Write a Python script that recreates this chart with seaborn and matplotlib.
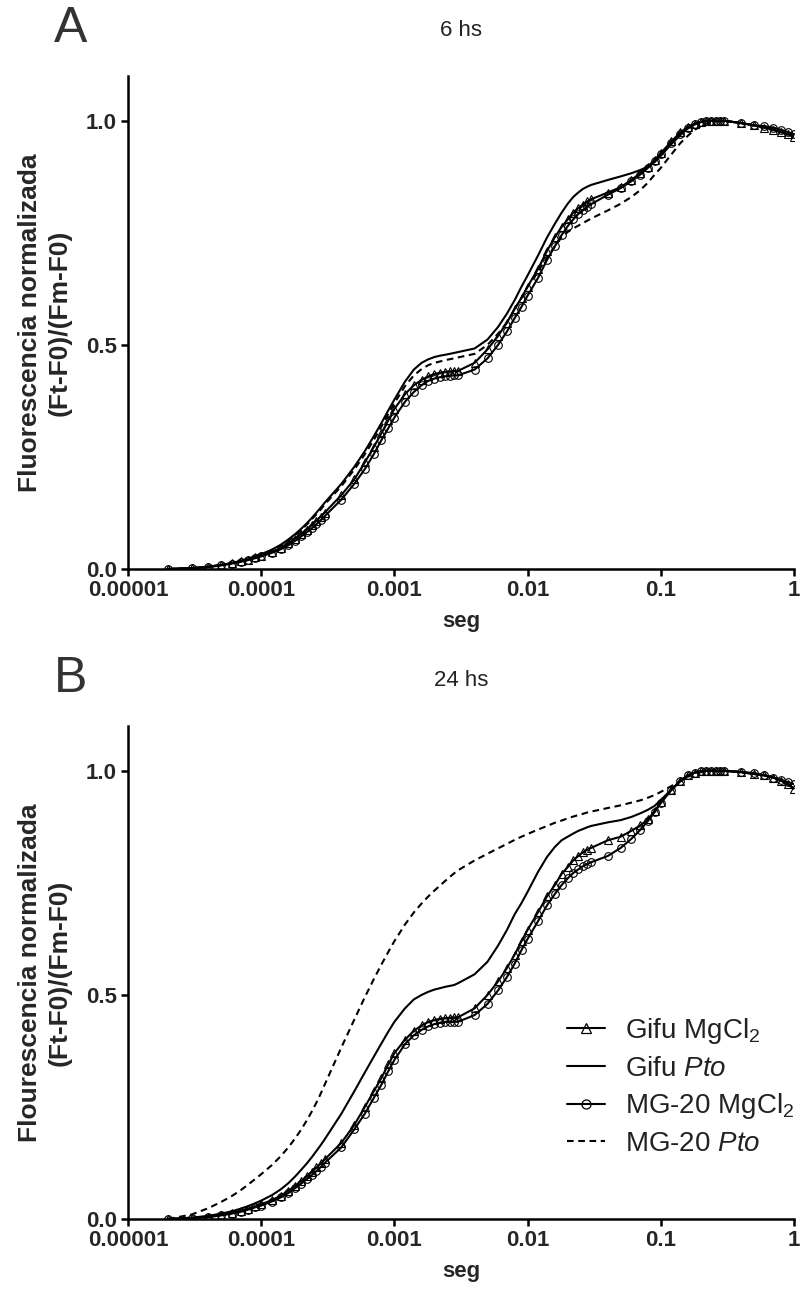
import matplotlib
matplotlib.use("Agg")
import matplotlib.pyplot as plt
import seaborn as sns
from matplotlib.lines import Line2D
from matplotlib.ticker import NullLocator

# ---------------- data ----------------
tiempo = [2e-5, 3e-5, 4e-5, 5e-5, 6e-5, 7e-5, 8e-5, 9e-5, 1e-4, 1.2e-4, 1.4e-4, 1.6e-4,
          1.8e-4, 2e-4, 2.2e-4, 2.4e-4, 2.6e-4, 2.8e-4, 3e-4,
          4e-4, 5e-4, 6e-4, 7e-4, 8e-4, 9e-4, 1e-3, 1.2e-3, 1.4e-3, 1.6e-3, 1.8e-3,
          2e-3, 2.2e-3, 2.4e-3, 2.6e-3, 2.8e-3, 3e-3,
          4e-3, 5e-3, 6e-3, 7e-3, 8e-3, 9e-3, 1e-2, 1.2e-2, 1.4e-2, 1.6e-2, 1.8e-2,
          2e-2, 2.2e-2, 2.4e-2, 2.6e-2, 2.8e-2, 3e-2,
          0.04, 0.05, 0.06, 0.07, 0.08, 0.09, 0.1, 0.12, 0.14, 0.16, 0.18,
          0.2, 0.22, 0.24, 0.26, 0.28, 0.3,
          0.4, 0.5, 0.6, 0.7, 0.8, 0.9, 1.0]

# Panel A: 6 hs
a_gifu_mgcl2 = [0.0, 0.002, 0.005, 0.009, 0.013, 0.017, 0.021, 0.026, 0.030, 0.038, 0.047, 0.057,
                0.068, 0.078, 0.088, 0.098, 0.108, 0.117, 0.126,
                0.165, 0.20, 0.238, 0.272, 0.303, 0.332, 0.357, 0.39, 0.41, 0.422, 0.43,
                0.435, 0.438, 0.44, 0.441, 0.442, 0.442,
                0.46, 0.49, 0.52, 0.55, 0.58, 0.605, 0.63, 0.67, 0.71, 0.74, 0.763,
                0.78, 0.795, 0.805, 0.813, 0.82, 0.825,
                0.84, 0.852, 0.868, 0.883, 0.898, 0.913, 0.928, 0.954, 0.974, 0.987, 0.994,
                0.998, 1.0, 1.0, 1.0, 1.0, 1.0,
                0.995, 0.99, 0.985, 0.98, 0.975, 0.97, 0.965]
a_gifu_pto = [0.0, 0.002, 0.005, 0.009, 0.013, 0.018, 0.023, 0.028, 0.033, 0.043, 0.054, 0.066,
              0.078, 0.09, 0.102, 0.114, 0.126, 0.137, 0.148,
              0.19, 0.228, 0.263, 0.296, 0.326, 0.354, 0.378, 0.418, 0.445, 0.46, 0.468,
              0.473, 0.476, 0.478, 0.48, 0.482, 0.484,
              0.492, 0.512, 0.54, 0.57, 0.60, 0.63, 0.655, 0.70, 0.74, 0.77, 0.795,
              0.815, 0.83, 0.84, 0.848, 0.853, 0.857,
              0.868, 0.876, 0.883, 0.89, 0.898, 0.908, 0.922, 0.948, 0.968, 0.983, 0.992,
              0.997, 1.0, 1.0, 1.0, 1.0, 1.0,
              0.995, 0.99, 0.985, 0.98, 0.975, 0.97, 0.965]
a_mg20_mgcl2 = [0.0, 0.002, 0.004, 0.008, 0.012, 0.016, 0.02, 0.024, 0.028, 0.036, 0.044, 0.053,
                0.063, 0.073, 0.082, 0.091, 0.1, 0.109, 0.118,
                0.155, 0.19, 0.223, 0.256, 0.288, 0.314, 0.338, 0.373, 0.395, 0.41, 0.42,
                0.425, 0.428, 0.43, 0.431, 0.432, 0.432,
                0.445, 0.47, 0.50, 0.53, 0.56, 0.585, 0.61, 0.65, 0.69, 0.72, 0.745,
                0.765, 0.78, 0.792, 0.80, 0.808, 0.814,
                0.835, 0.85, 0.865, 0.88, 0.895, 0.91, 0.925, 0.95, 0.97, 0.985, 0.993,
                0.998, 1.0, 1.0, 1.0, 1.0, 1.0,
                0.995, 0.99, 0.988, 0.985, 0.98, 0.975, 0.97]
a_mg20_pto = [0.0, 0.002, 0.005, 0.009, 0.013, 0.018, 0.022, 0.027, 0.032, 0.041, 0.052, 0.063,
              0.075, 0.087, 0.099, 0.111, 0.122, 0.133, 0.144,
              0.185, 0.222, 0.256, 0.288, 0.318, 0.346, 0.37, 0.408, 0.432, 0.446, 0.455,
              0.46, 0.463, 0.466, 0.468, 0.47, 0.472,
              0.48, 0.50, 0.525, 0.55, 0.58, 0.605, 0.63, 0.665, 0.695, 0.72, 0.74,
              0.752, 0.76, 0.766, 0.772, 0.777, 0.782,
              0.80, 0.815, 0.83, 0.845, 0.862, 0.88, 0.895, 0.925, 0.95, 0.967, 0.98,
              0.988, 0.994, 0.997, 0.999, 1.0, 1.0,
              0.995, 0.99, 0.985, 0.98, 0.975, 0.97, 0.965]

# Panel B: 24 hs
b_gifu_mgcl2 = [0.0, 0.002, 0.005, 0.009, 0.013, 0.018, 0.023, 0.028, 0.033, 0.042, 0.052, 0.063,
                0.074, 0.085, 0.095, 0.105, 0.115, 0.124, 0.133,
                0.17, 0.21, 0.25, 0.285, 0.315, 0.345, 0.37, 0.40, 0.42, 0.432, 0.44,
                0.444, 0.447, 0.448, 0.449, 0.45, 0.45,
                0.47, 0.50, 0.53, 0.56, 0.59, 0.62, 0.645, 0.685, 0.72, 0.745, 0.77,
                0.785, 0.80, 0.81, 0.818, 0.824, 0.828,
                0.845, 0.853, 0.866, 0.878, 0.892, 0.91, 0.93, 0.958, 0.978, 0.99, 0.996,
                0.999, 1.0, 1.0, 1.0, 1.0, 1.0,
                0.997, 0.993, 0.99, 0.985, 0.978, 0.97, 0.96]
b_gifu_pto = [0.0, 0.003, 0.007, 0.012, 0.017, 0.023, 0.029, 0.035, 0.041, 0.053, 0.066, 0.08,
              0.095, 0.11, 0.124, 0.138, 0.152, 0.165, 0.178,
              0.235, 0.285, 0.327, 0.362, 0.392, 0.418, 0.44, 0.47, 0.49, 0.50, 0.507,
              0.512, 0.515, 0.518, 0.52, 0.522, 0.526,
              0.546, 0.574, 0.61, 0.645, 0.68, 0.705, 0.73, 0.775, 0.808, 0.83, 0.845,
              0.853, 0.86, 0.866, 0.87, 0.874, 0.877,
              0.885, 0.89, 0.897, 0.905, 0.913, 0.922, 0.935, 0.958, 0.977, 0.99, 0.996,
              0.999, 1.0, 1.0, 1.0, 1.0, 1.0,
              0.997, 0.993, 0.99, 0.985, 0.978, 0.97, 0.96]
b_mg20_mgcl2 = [0.0, 0.002, 0.004, 0.008, 0.012, 0.016, 0.021, 0.026, 0.030, 0.039, 0.048, 0.058,
                0.069, 0.079, 0.089, 0.098, 0.107, 0.116, 0.125,
                0.16, 0.20, 0.235, 0.27, 0.30, 0.33, 0.355, 0.39, 0.41, 0.422, 0.43,
                0.435, 0.438, 0.44, 0.44, 0.44, 0.44,
                0.455, 0.48, 0.51, 0.54, 0.57, 0.60, 0.625, 0.665, 0.70, 0.725, 0.745,
                0.76, 0.772, 0.78, 0.787, 0.792, 0.796,
                0.81, 0.828, 0.848, 0.868, 0.888, 0.908, 0.928, 0.957, 0.977, 0.99, 0.996,
                0.999, 1.0, 1.0, 1.0, 1.0, 1.0,
                0.998, 0.995, 0.99, 0.985, 0.98, 0.975, 0.97]
b_mg20_pto = [0.0, 0.01, 0.024, 0.038, 0.051, 0.064, 0.077, 0.089, 0.1, 0.12, 0.14, 0.16,
              0.18, 0.2, 0.22, 0.24, 0.26, 0.28, 0.30,
              0.383, 0.445, 0.495, 0.535, 0.568, 0.596, 0.62, 0.657, 0.684, 0.704, 0.72,
              0.733, 0.744, 0.754, 0.763, 0.771, 0.778,
              0.80, 0.815, 0.827, 0.837, 0.846, 0.853, 0.859, 0.869, 0.877, 0.884, 0.889,
              0.894, 0.898, 0.901, 0.904, 0.907, 0.909,
              0.917, 0.923, 0.929, 0.934, 0.94, 0.946, 0.953, 0.966, 0.977, 0.987, 0.993,
              0.997, 0.999, 1.0, 1.0, 1.0, 1.0,
              0.997, 0.993, 0.99, 0.985, 0.978, 0.97, 0.96]

series_names = ["Gifu MgCl$_2$", "Gifu $\\mathit{Pto}$", "MG-20 MgCl$_2$", "MG-20 $\\mathit{Pto}$"]
x_ticks = [1e-5, 1e-4, 1e-3, 1e-2, 1e-1, 1]
x_tick_labels = ["0.00001", "0.0001", "0.001", "0.01", "0.1", "1"]
y_ticks = [0.0, 0.5, 1.0]
y_tick_labels = ["0.0", "0.5", "1.0"]
panel_titles = ["6 hs", "24 hs"]
panel_letters = ["A", "B"]
y_labels = ["Fluorescencia normalizada\n(Ft-F0)/(Fm-F0)",
            "Flourescencia normalizada\n(Ft-F0)/(Fm-F0)"]
x_label = "seg"

# ---------------- style ----------------
sns.set_style("ticks")
plt.rcParams["font.family"] = ["Liberation Sans", "DejaVu Sans"]
plt.rcParams["mathtext.fontset"] = "custom"
plt.rcParams["mathtext.rm"] = "Liberation Sans"
plt.rcParams["mathtext.it"] = "Liberation Sans:italic"
plt.rcParams["mathtext.bf"] = "Liberation Sans:bold"

styles = [
    dict(marker="^", linestyle="-"),
    dict(marker=None, linestyle="-"),
    dict(marker="o", linestyle="-"),
    dict(marker=None, linestyle=(0, (3.2, 2.2))),
]

W, H = 801, 1298
fig = plt.figure(figsize=(W / 100, H / 100), dpi=100)
ax_left, ax_w, ax_h = 128, 666, 493
axes = [
    fig.add_axes([ax_left / W, (H - 569) / H, ax_w / W, ax_h / H]),
    fig.add_axes([ax_left / W, (H - 1219) / H, ax_w / W, ax_h / H]),
]
panels = [
    [a_gifu_mgcl2, a_gifu_pto, a_mg20_mgcl2, a_mg20_pto],
    [b_gifu_mgcl2, b_gifu_pto, b_mg20_mgcl2, b_mg20_pto],
]

for i, ax in enumerate(axes):
    for vals, st in zip(panels[i], styles):
        kw = dict(color="black", linewidth=1.5, linestyle=st["linestyle"])
        if st["marker"]:
            kw.update(marker=st["marker"], markersize=5.5, markerfacecolor="none",
                      markeredgecolor="black", markeredgewidth=0.8)
        sns.lineplot(x=tiempo, y=vals, ax=ax, estimator=None, sort=False,
                     legend=False, **kw)
    ax.set_xscale("log")
    ax.set_xlim(1e-5, 1)
    ax.set_ylim(0, 1.1)
    ax.set_xticks(x_ticks)
    ax.set_xticklabels(x_tick_labels)
    ax.xaxis.set_minor_locator(NullLocator())
    ax.set_yticks(y_ticks)
    ax.set_yticklabels(y_tick_labels)
    for s in ["top", "right"]:
        ax.spines[s].set_visible(False)
    for s in ["left", "bottom"]:
        ax.spines[s].set_linewidth(1.8)
        ax.spines[s].set_color("black")
    ax.tick_params(axis="both", which="major", length=5, width=1.8, color="black",
                   labelsize=16, pad=3)
    for lab in ax.get_xticklabels() + ax.get_yticklabels():
        lab.set_fontweight("bold")
    ax.set_xlabel(x_label, fontsize=16, fontweight="bold", labelpad=7)
    ax.set_ylabel(y_labels[i], fontsize=19, fontweight="bold", linespacing=1.3)
    ax.yaxis.set_label_coords(-0.084, 0.5)

# panel letters and titles
offs = [0, 650]
for i in range(2):
    fig.text(71 / W, 1 - (29 + offs[i]) / H, panel_letters[i], fontsize=36,
             color="#333333", ha="center", va="center")
    fig.text(461 / W, 1 - (30 + offs[i]) / H, panel_titles[i], fontsize=16,
             color="#222222", ha="center", va="center")

# legend on panel B
handles = []
for st, name in zip(styles, series_names):
    handles.append(Line2D([0], [0], color="black", linewidth=1.5, linestyle=st["linestyle"],
                          marker=st["marker"] if st["marker"] else None, markersize=6.5,
                          markerfacecolor="none", markeredgecolor="black",
                          markeredgewidth=0.9))
leg = axes[1].legend(handles, series_names, loc="center right",
                     bbox_to_anchor=(1.0, 0.269), frameon=False, fontsize=20,
                     handlelength=1.37, handletextpad=0.72, labelspacing=0.35,
                     borderaxespad=0.0, borderpad=0.0, numpoints=1)
for t in leg.get_texts():
    t.set_color("#222222")

fig.savefig("out.png", dpi=100)
